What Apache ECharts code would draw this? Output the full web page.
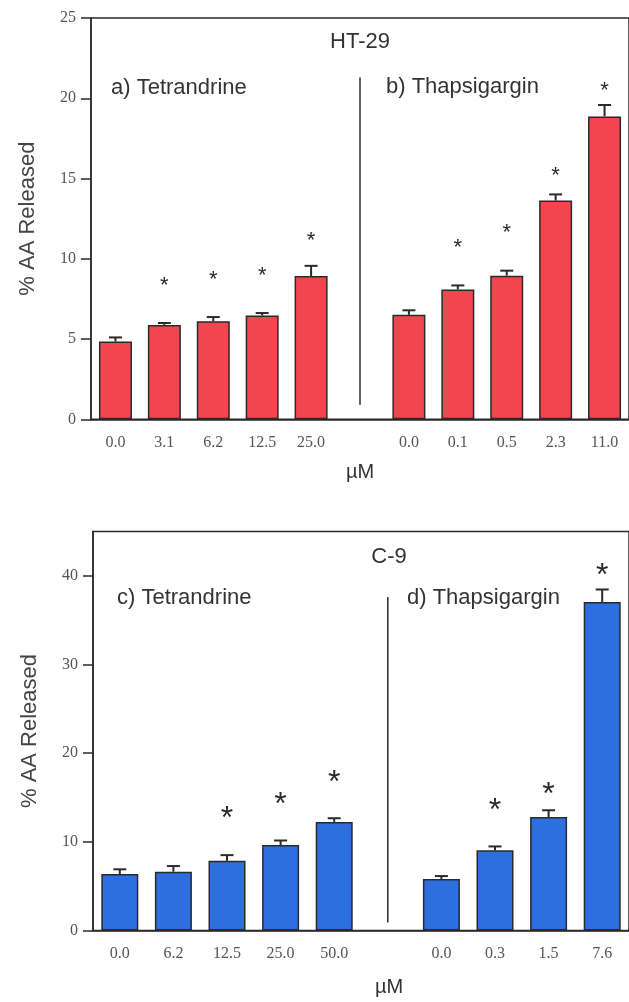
<!DOCTYPE html>
<html>
<head>
<meta charset="utf-8">
<script src="https://cdn.jsdelivr.net/npm/echarts@6/dist/echarts.min.js"></script>
</head>
<body style="margin:0;background:#fff">
<div id="main" style="width:629px;height:1002px"></div>
<script>
// HT-29 panel (a: tetrandrine, b: thapsigargin), blank slot = divider
var topCats  = ['0.0', '3.1', '6.2', '12.5', '25.0', '', '0.0', '0.1', '0.5', '2.3', '11.0'];
var topMeans = [4.85, 5.88, 6.11, 6.47, 8.93, null, 6.51, 8.09, 8.95, 13.63, 18.87];
var topErr   = [5.1, 6.0, 6.37, 6.62, 9.56, null, 6.79, 8.34, 9.26, 14.01, 19.58];
var topStars = [null, 8.63, 8.99, 9.24, 11.39, null, null, 10.95, 11.93, 15.46, 20.76];
var topDivider = [5, 0.9, 21.3];
var topTicks = [0, 5, 10, 15, 20, 25];

// C-9 panel (c: tetrandrine, d: thapsigargin)
var botCats  = ['0.0', '6.2', '12.5', '25.0', '50.0', '', '0.0', '0.3', '1.5', '7.6'];
var botMeans = [6.37, 6.63, 7.87, 9.63, 12.25, null, 5.8, 9.06, 12.8, 37.04];
var botErr   = [6.9, 7.27, 8.5, 10.15, 12.66, null, 6.14, 9.48, 13.56, 38.46];
var botStars = [null, null, 13.3, 14.9, 17.4, null, null, 14.2, 16.1, 40.7];
var botDivider = [5, 0.9, 37.6];
var botTicks = [0, 10, 20, 30, 40];

var ink = '#2a2a2a';
var sans = 'Liberation Sans';
var serif = 'Liberation Serif';

function errData(means, errs) {
  var out = [];
  for (var i = 0; i < means.length; i++) {
    if (means[i] != null) out.push([i, means[i], errs[i]]);
  }
  return out;
}
function starData(stars) {
  var out = [];
  for (var i = 0; i < stars.length; i++) {
    if (stars[i] != null) out.push([i, stars[i]]);
  }
  return out;
}
function errRender(params, api) {
  var p0 = api.coord([api.value(0), api.value(1)]);
  var p1 = api.coord([api.value(0), api.value(2)]);
  var half = 6.5;
  return {type: 'group', children: [
    {type: 'line', shape: {x1: p0[0], y1: p0[1], x2: p1[0], y2: p1[1]}, style: {stroke: ink, lineWidth: 2}},
    {type: 'line', shape: {x1: p1[0] - half, y1: p1[1], x2: p1[0] + half, y2: p1[1]}, style: {stroke: ink, lineWidth: 2}}
  ]};
}
function starRender(size) {
  return function (params, api) {
    var p = api.coord([api.value(0), api.value(1)]);
    return {type: 'text', x: p[0], y: p[1] + size * 0.22,
      style: {text: '*', fontSize: size, fontFamily: sans, fill: ink, align: 'center', verticalAlign: 'middle'}};
  };
}
function dividerRender(params, api) {
  var p0 = api.coord([api.value(0), api.value(1)]);
  var p1 = api.coord([api.value(0), api.value(2)]);
  return {type: 'line', shape: {x1: p0[0], y1: p0[1], x2: p1[0], y2: p1[1]}, style: {stroke: ink, lineWidth: 1.5}};
}

function xAxisFor(g, cats) {
  return {
    type: 'category', gridIndex: g, data: cats,
    axisLine: {lineStyle: {color: ink, width: 1.5}},
    axisTick: {alignWithLabel: true, length: 8, lineStyle: {color: ink, width: 1.5}},
    axisLabel: {interval: 0, color: '#555', fontFamily: serif, fontSize: 16, margin: 15}
  };
}
function yAxisFor(g, max, ticks) {
  return {
    type: 'value', gridIndex: g, min: 0, max: max,
    axisLine: {show: true, lineStyle: {color: ink, width: 1.5}},
    axisTick: {show: true, length: 10, customValues: ticks, lineStyle: {color: ink, width: 1.5}},
    axisLabel: {customValues: ticks, color: '#555', fontFamily: serif, fontSize: 16, margin: 15},
    splitLine: {show: false},
    name: '% AA Released', nameLocation: 'middle', nameGap: 52,
    nameTextStyle: {fontFamily: sans, fontSize: 22, color: '#444'}
  };
}

var chart = echarts.init(document.getElementById('main'));
chart.setOption({
  backgroundColor: '#fff',
  animation: false,
  grid: [
    {left: 91, top: 18, width: 538, height: 401.3, show: true, borderColor: ink, borderWidth: 1.5},
    {left: 93, top: 531.5, width: 537, height: 399, show: true, borderColor: ink, borderWidth: 1.5}
  ],
  xAxis: [xAxisFor(0, topCats), xAxisFor(1, botCats)],
  yAxis: [yAxisFor(0, 25, topTicks), yAxisFor(1, 45, botTicks)],
  series: [
    {type: 'bar', xAxisIndex: 0, yAxisIndex: 0, data: topMeans, barWidth: 33,
      itemStyle: {color: '#f2464f', borderColor: ink, borderWidth: 1.5}},
    {type: 'custom', xAxisIndex: 0, yAxisIndex: 0, data: errData(topMeans, topErr), renderItem: errRender, z: 3},
    {type: 'custom', xAxisIndex: 0, yAxisIndex: 0, data: starData(topStars), renderItem: starRender(22), z: 3},
    {type: 'custom', xAxisIndex: 0, yAxisIndex: 0, data: [topDivider], renderItem: dividerRender, z: 3},
    {type: 'bar', xAxisIndex: 1, yAxisIndex: 1, data: botMeans, barWidth: 37,
      itemStyle: {color: '#2e6fe0', borderColor: ink, borderWidth: 1.5}},
    {type: 'custom', xAxisIndex: 1, yAxisIndex: 1, data: errData(botMeans, botErr), renderItem: errRender, z: 3},
    {type: 'custom', xAxisIndex: 1, yAxisIndex: 1, data: starData(botStars), renderItem: starRender(32), z: 3},
    {type: 'custom', xAxisIndex: 1, yAxisIndex: 1, data: [botDivider], renderItem: dividerRender, z: 3}
  ],
  graphic: [
    {type: 'text', x: 360, y: 42, style: {text: 'HT-29', fontFamily: sans, fontSize: 22, fill: '#333', align: 'center', verticalAlign: 'middle'}},
    {type: 'text', x: 111, y: 88, style: {text: 'a) Tetrandrine', fontFamily: sans, fontSize: 22, fill: '#333', align: 'left', verticalAlign: 'middle'}},
    {type: 'text', x: 386, y: 87, style: {text: 'b) Thapsigargin', fontFamily: sans, fontSize: 22, fill: '#333', align: 'left', verticalAlign: 'middle'}},
    {type: 'text', x: 360, y: 472, style: {text: 'µM', fontFamily: sans, fontSize: 20, fill: '#333', align: 'center', verticalAlign: 'middle'}},
    {type: 'text', x: 389, y: 557, style: {text: 'C-9', fontFamily: sans, fontSize: 22, fill: '#333', align: 'center', verticalAlign: 'middle'}},
    {type: 'text', x: 117, y: 598, style: {text: 'c) Tetrandrine', fontFamily: sans, fontSize: 22, fill: '#333', align: 'left', verticalAlign: 'middle'}},
    {type: 'text', x: 407, y: 598, style: {text: 'd) Thapsigargin', fontFamily: sans, fontSize: 22, fill: '#333', align: 'left', verticalAlign: 'middle'}},
    {type: 'text', x: 389, y: 987, style: {text: 'µM', fontFamily: sans, fontSize: 20, fill: '#333', align: 'center', verticalAlign: 'middle'}}
  ]
});
</script>
</body>
</html>
